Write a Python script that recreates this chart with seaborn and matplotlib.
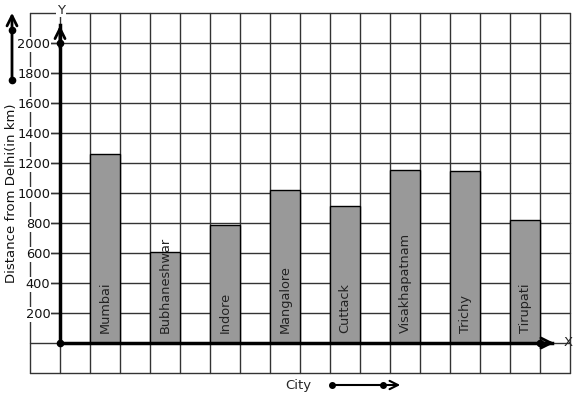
import numpy as np
import pandas as pd
import matplotlib
matplotlib.use("Agg")
import matplotlib.pyplot as plt
import seaborn as sns

cities = ["Mumbai", "Bubhaneshwar", "Indore", "Mangalore", "Cuttack",
          "Visakhapatnam", "Trichy", "Tirupati"]
distances = [1260, 610, 790, 1020, 910, 1150, 1145, 820]
yticks = [200, 400, 600, 800, 1000, 1200, 1400, 1600, 1800, 2000]

sns.set_style("white")
plt.rcParams["font.family"] = ["DejaVu Sans"]

W, H = 577, 399
fig = plt.figure(figsize=(W / 100, H / 100), dpi=100)
ax = fig.add_axes([30 / W, 26 / H, 540 / W, 360 / H])

df = pd.DataFrame({"city": cities, "dist": distances})
sns.barplot(data=df, x="city", y="dist", ax=ax, width=0.5, color="#999999",
            saturation=1, edgecolor="black", linewidth=1, zorder=2)

ax.set_xlim(-1.25, 7.75)
ax.set_ylim(-200, 2200)

# grid
gc = "#333333"
for gx in np.arange(-1.25, 7.76, 0.5):
    ax.axvline(gx, color=gc, lw=1, zorder=0.5, clip_on=False)
for gy in np.arange(-200, 2201, 200):
    ax.axhline(gy, color=gc, lw=1, zorder=0.5, clip_on=False)

# axes as spines through origin
for s in ["top", "right"]:
    ax.spines[s].set_visible(False)
ax.spines["left"].set_position(("data", -0.75))
ax.spines["left"].set_bounds(0, 2120)
ax.spines["left"].set_linewidth(2.5)
ax.spines["left"].set_color("black")
ax.spines["bottom"].set_position(("data", 0))
ax.spines["bottom"].set_bounds(-0.75, 7.45)
ax.spines["bottom"].set_linewidth(2.5)
ax.spines["bottom"].set_color("black")

ax.annotate("", xy=(-0.75, 2135), xytext=(-0.75, 1950),
            arrowprops=dict(arrowstyle="->", lw=2, color="black", mutation_scale=18))
ax.annotate("", xy=(7.53, 0), xytext=(7.2, 0),
            arrowprops=dict(arrowstyle="->", lw=2, color="black", mutation_scale=18))
ax.plot([-0.75, -0.75, 7.25], [0, 2000, 0], "o", ms=4.5, color="black",
        clip_on=False, zorder=5)

ax.set_xticks([])
ax.set_xlabel("")
ax.set_ylabel("")
ax.set_yticks(yticks)
ax.set_yticklabels([str(v) for v in yticks])
ax.tick_params(axis="y", length=7, width=1, color=gc, pad=0, labelsize=9.3,
               labelcolor="#111111", left=True)
for lbl in ax.get_yticklabels():
    lbl.set_bbox(dict(facecolor="white", edgecolor="none", pad=0.5))

# bar labels
for i, name in enumerate(cities):
    ax.text(i, 67, name, rotation=90, ha="center", va="bottom",
            fontsize=9.3, color="#222222", zorder=6)

# outer texts
fig.text(12 / W, 1 - 193 / H, "Distance from Delhi(in km)", rotation=90,
         ha="center", va="center", fontsize=9.5, color="#111111")
fig.text(61 / W, 1 - 10 / H, "Y", ha="center", va="center", fontsize=9.5,
         bbox=dict(facecolor="white", edgecolor="none", pad=0.5))
fig.text(568 / W, 1 - 342 / H, "X", ha="center", va="center", fontsize=9.5)
fig.text(298 / W, 1 - 385 / H, "City", ha="center", va="center", fontsize=9.5)

# decorative arrows
ax.annotate("", xy=(12, H - 10), xycoords="figure pixels",
            xytext=(12, H - 80), textcoords="figure pixels",
            arrowprops=dict(arrowstyle="->", lw=2, color="black", mutation_scale=18))
ax.annotate("", xy=(403, H - 385), xycoords="figure pixels",
            xytext=(332, H - 385), textcoords="figure pixels",
            arrowprops=dict(arrowstyle="->", lw=1.5, color="black", mutation_scale=15))
fig.lines.append(plt.Line2D([12 / W, 12 / W], [1 - 30 / H, 1 - 80 / H], marker="o",
                            ls="none", ms=4.5, color="black",
                            transform=fig.transFigure, figure=fig))
fig.lines.append(plt.Line2D([332 / W, 383 / W], [1 - 385 / H, 1 - 385 / H], marker="o",
                            ls="none", ms=4, color="black",
                            transform=fig.transFigure, figure=fig))

fig.savefig("out.png", dpi=100)
